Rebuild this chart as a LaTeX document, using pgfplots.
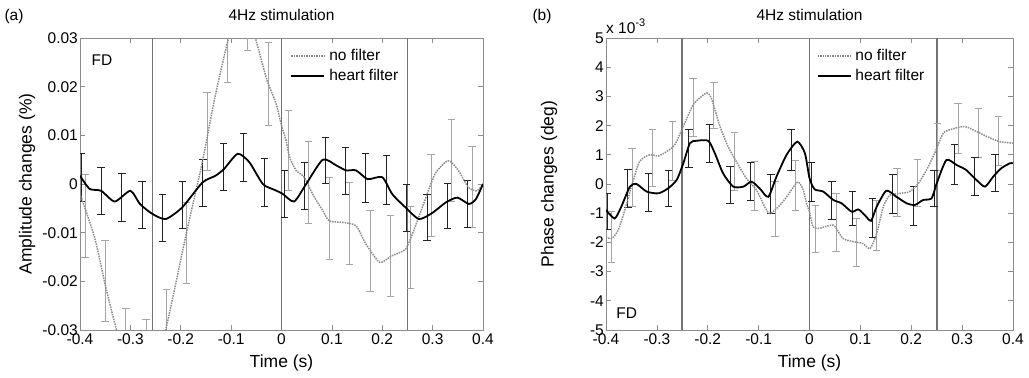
\documentclass[border=0pt]{standalone}
\usepackage{pgfplots}
\pgfplotsset{compat=1.18}
\usepackage{fontspec}
\setmainfont{Liberation Sans}
\definecolor{frame}{RGB}{140,140,140}
\definecolor{vline}{RGB}{115,115,115}
\definecolor{nofilt}{RGB}{140,140,140}
\definecolor{graybar}{RGB}{165,165,165}
\definecolor{blackbar}{RGB}{35,35,35}
\newcommand{\fs}{\fontsize{15.5bp}{17bp}\selectfont}
\newcommand{\fl}{\fontsize{17.5bp}{19bp}\selectfont}
\pgfplotsset{
  panel/.style={
    scale only axis, height=292bp,
    xmin=-0.4, xmax=0.4,
    scaled y ticks=false, scaled x ticks=false,
    xtick={-0.4,-0.3,-0.2,-0.1,0,0.1,0.2,0.3,0.4},
    xticklabels={-0.4,-0.3,-0.2,-0.1,0,0.1,0.2,0.3,0.4},
    tick align=inside, xtick pos=both, ytick pos=both,
    major tick length=5bp,
    axis line style={frame, line width=0.7pt},
    tick style={frame, line width=0.7pt},
    ticklabel style={font=\fs, black},
    xticklabel style={yshift=-2.5bp, inner sep=1bp},
    yticklabel style={inner sep=2bp},
    label style={font=\fl},
    title style={font=\fs},
    xlabel={Time (s)},
    xlabel style={at={(axis description cs:0.5,-0.128)}, anchor=base},
    title style={at={(axis description cs:0.5,1.058)}, anchor=center},
    legend style={draw=none, fill=none, font=\fs, anchor=north west,
      row sep=3bp, inner sep=0pt, legend cell align=left,
      nodes={inner xsep=4bp}},
    legend image code/.code={\draw[#1] (0bp,0bp) -- (33bp,0bp);},
    clip mode=individual,
  },
  gbars/.style={forget plot, draw=none, mark=none,
    error bars/.cd, y dir=both, y explicit,
    error bar style={graybar, line width=0.8pt},
    error mark options={graybar, line width=0.8pt, mark size=3.7bp, rotate=90}},
  kbars/.style={forget plot, draw=none, mark=none,
    error bars/.cd, y dir=both, y explicit,
    error bar style={blackbar, line width=0.9pt},
    error mark options={blackbar, line width=0.9pt, mark size=3.7bp, rotate=90}},
}
\begin{document}
\begin{tikzpicture}
\useasboundingbox (0,0) rectangle (1029bp,378bp);
\node[font=\fs] at (14bp,362bp) {(a)};
\node[font=\fs] at (542bp,362bp) {(b)};
% ---------------- panel (a)
\begin{axis}[panel, at={(80bp,48bp)}, anchor=south west, width=403bp,
  ymin=-0.03, ymax=0.03,
  ytick={-0.03,-0.02,-0.01,0,0.01,0.02,0.03},
  yticklabels={-0.03,-0.02,-0.01,0,0.01,0.02,0.03},
  ylabel={Amplitude changes (\%)},
  ylabel style={at={(axis description cs:-0.1315,0.5)}, anchor=center},
  title={4Hz stimulation},
  legend style={at={(rel axis cs:0.522,0.968)}},
]
\addplot[vline, line width=1.8pt, forget plot] coordinates {(-0.256,-0.03) (-0.256,0.03)};
\addplot[vline, line width=1.8pt, forget plot] coordinates {(0,-0.03) (0,0.03)};
\addplot[vline, line width=1.8pt, forget plot] coordinates {(0.25,-0.03) (0.25,0.03)};
% gray error bars (no filter)
\addplot[gbars] coordinates {
(-0.390,-0.00655) +- (0,0.00845)
(-0.350,-0.01995) +- (0,0.00835)
(-0.309,-0.0339) +- (0,0.0084)
(-0.269,-0.0363) +- (0,0.0084)
(-0.228,-0.0301) +- (0,0.0084)
(-0.188,-0.0121) +- (0,0.0083)
(-0.148,0.0108) +- (0,0.0080)
(-0.107,0.0293) +- (0,0.0084)
(-0.067,0.0358) +- (0,0.0084)
(-0.026,0.02055) +- (0,0.00845)
(0.014,0.0069) +- (0,0.0083)
(0.054,0.00035) +- (0,0.00845)
(0.095,-0.00705) +- (0,0.00845)
(0.135,-0.00815) +- (0,0.00845)
(0.176,-0.0138) +- (0,0.0083)
(0.216,-0.01475) +- (0,0.00835)
(0.256,-0.01295) +- (0,0.00845)
(0.297,-0.00235) +- (0,0.00835)
(0.337,0.00485) +- (0,0.00835)
(0.378,-0.00065) +- (0,0.00835)
};
% black error bars (heart filter)
\addplot[kbars] coordinates {
(-0.398,0.00135) +- (0,0.00485)
(-0.358,-0.0014) +- (0,0.0048)
(-0.317,-0.0028) +- (0,0.0049)
(-0.277,-0.00435) +- (0,0.00485)
(-0.236,-0.00705) +- (0,0.00485)
(-0.196,-0.0043) +- (0,0.0048)
(-0.156,0.0002) +- (0,0.0048)
(-0.115,0.00345) +- (0,0.00485)
(-0.075,0.0054) +- (0,0.0049)
(-0.034,0.0003) +- (0,0.0049)
(0.006,-0.00205) +- (0,0.00485)
(0.046,-0.00035) +- (0,0.00485)
(0.087,0.00485) +- (0,0.00475)
(0.127,0.0027) +- (0,0.0049)
(0.167,0.0012) +- (0,0.005)
(0.208,0.0009) +- (0,0.005)
(0.248,-0.00485) +- (0,0.00485)
(0.289,-0.00685) +- (0,0.00475)
(0.329,-0.00445) +- (0,0.00465)
(0.369,-0.00415) +- (0,0.00485)
};
\addplot[nofilt, densely dotted, line width=1.5pt, smooth, tension=0.4] coordinates {
(-0.4,-0.002) (-0.371,-0.011) (-0.35,-0.0207) (-0.328,-0.0297) (-0.31,-0.034)
(-0.29,-0.0365) (-0.268,-0.037) (-0.25,-0.035) (-0.23,-0.030) (-0.188,-0.0097)
(-0.158,0.0041) (-0.132,0.0179) (-0.105,0.030) (-0.09,0.0335) (-0.07,0.035)
(-0.052,0.030) (-0.029,0.0214) (-0.011,0.0166) (0.0,0.012) (0.009,0.009)
(0.016,0.0055) (0.029,0.0028) (0.045,0.0014) (0.062,-0.0021) (0.082,-0.0055)
(0.095,-0.0076) (0.122,-0.0079) (0.148,-0.0086) (0.168,-0.0124) (0.195,-0.0161)
(0.218,-0.0148) (0.246,-0.0134) (0.262,-0.0097) (0.282,-0.0041) (0.305,0.0021)
(0.331,0.0048) (0.351,0.0028) (0.371,-0.0007) (0.388,-0.0014) (0.4,0.0)
};
\addlegendentry{no filter}
\addplot[black, line width=1.8pt, smooth, tension=0.4] coordinates {
(-0.4,0.0017) (-0.381,-0.0010) (-0.358,-0.0014) (-0.331,-0.0036) (-0.3,-0.0014)
(-0.281,-0.0041) (-0.257,-0.0061) (-0.23,-0.0072) (-0.197,-0.0048) (-0.157,0.0003)
(-0.131,0.0017) (-0.114,0.0031) (-0.087,0.0062) (-0.064,0.0045) (-0.037,0.0)
(-0.014,-0.0012) (0.002,-0.002) (0.025,-0.0036) (0.049,0.0) (0.082,0.005)
(0.109,0.0038) (0.128,0.0028) (0.148,0.0028) (0.171,0.001) (0.2,0.0014)
(0.22,-0.0021) (0.246,-0.0048) (0.273,-0.0072) (0.3,-0.0059) (0.326,-0.0038)
(0.349,-0.0028) (0.372,-0.0041) (0.386,-0.0031) (0.4,0.0)
};
\addlegendentry{heart filter}
\node[font=\fs, anchor=west] at (rel axis cs:0.02,0.925) {FD};
\end{axis}
% ---------------- panel (b)
\begin{axis}[panel, at={(606bp,48bp)}, anchor=south west, width=407bp,
  ymin=-5, ymax=5,
  ytick={-5,-4,-3,-2,-1,0,1,2,3,4,5},
  yticklabels={-5,-4,-3,-2,-1,0,1,2,3,4,5},
  ylabel={Phase changes (deg)},
  ylabel style={at={(axis description cs:-0.14,0.5)}, anchor=center},
  title={4Hz stimulation},
  legend style={at={(rel axis cs:0.517,0.968)}},
]
\addplot[vline, line width=1.8pt, forget plot] coordinates {(-0.25,-5) (-0.25,5)};
\addplot[vline, line width=1.8pt, forget plot] coordinates {(0,-5) (0,5)};
\addplot[vline, line width=1.8pt, forget plot] coordinates {(0.25,-5) (0.25,5)};
\addplot[gbars] coordinates {
(-0.389,-1.81) +- (0,0.86)
(-0.349,0.225) +- (0,1.005)
(-0.309,0.895) +- (0,0.985)
(-0.269,1.14) +- (0,1.0)
(-0.229,2.615) +- (0,0.985)
(-0.188,2.685) +- (0,0.795)
(-0.148,0.785) +- (0,0.995)
(-0.108,-0.06) +- (0,0.83)
(-0.068,-0.865) +- (0,0.945)
(-0.028,-0.035) +- (0,0.855)
(0.012,-1.525) +- (0,0.805)
(0.052,-1.31) +- (0,0.99)
(0.092,-2.0) +- (0,0.82)
(0.132,-1.42) +- (0,0.87)
(0.172,-0.29) +- (0,0.83)
(0.212,0.035) +- (0,0.815)
(0.252,1.28) +- (0,0.8)
(0.292,1.90) +- (0,0.85)
(0.332,1.75) +- (0,0.85)
(0.372,1.48) +- (0,0.83)
};
\addplot[kbars] coordinates {
(-0.397,-0.94) +- (0,0.62)
(-0.357,-0.15) +- (0,0.65)
(-0.317,-0.28) +- (0,0.65)
(-0.277,-0.165) +- (0,0.615)
(-0.237,1.225) +- (0,0.655)
(-0.197,1.39) +- (0,0.66)
(-0.156,-0.03) +- (0,0.63)
(-0.116,0.095) +- (0,0.645)
(-0.076,-0.35) +- (0,0.66)
(-0.036,1.17) +- (0,0.69)
(0.004,0.06) +- (0,0.67)
(0.044,-0.565) +- (0,0.645)
(0.084,-0.845) +- (0,0.585)
(0.124,-1.165) +- (0,0.675)
(0.164,-0.35) +- (0,0.66)
(0.204,-0.75) +- (0,0.66)
(0.245,-0.15) +- (0,0.63)
(0.285,0.67) +- (0,0.67)
(0.325,0.25) +- (0,0.65)
(0.365,0.37) +- (0,0.63)
};
\addplot[nofilt, densely dotted, line width=1.5pt, smooth, tension=0.4] coordinates {
(-0.4,-1.81) (-0.389,-1.87) (-0.376,-1.58) (-0.363,-0.89) (-0.35,-0.09)
(-0.334,0.77) (-0.314,1.0) (-0.297,0.96) (-0.281,1.11) (-0.265,1.34)
(-0.248,1.97) (-0.229,2.71) (-0.216,2.94) (-0.202,3.12) (-0.193,2.94)
(-0.176,1.97) (-0.16,1.28) (-0.144,0.77) (-0.124,0.19) (-0.104,-0.21)
(-0.088,-0.78) (-0.078,-1.01) (-0.061,-0.78) (-0.045,-0.44) (-0.025,0.05)
(-0.019,0.02) (-0.012,-0.21) (-0.006,-0.66) (0.0,-0.95) (0.007,-1.47)
(0.020,-1.52) (0.047,-1.41) (0.066,-1.87) (0.089,-1.98) (0.105,-2.04)
(0.119,-2.21) (0.132,-1.70) (0.145,-0.78) (0.158,-0.38) (0.178,-0.32)
(0.197,-0.26) (0.214,0.02) (0.230,0.48) (0.246,1.05) (0.263,1.74)
(0.282,1.89) (0.305,1.97) (0.328,1.80) (0.348,1.63) (0.374,1.45) (0.4,1.40)
};
\addlegendentry{no filter}
\addplot[black, line width=1.8pt, smooth, tension=0.4] coordinates {
(-0.4,-0.89) (-0.383,-1.18) (-0.37,-0.78) (-0.353,-0.09) (-0.34,0.0)
(-0.32,-0.26) (-0.297,-0.32) (-0.278,-0.15) (-0.261,0.14) (-0.248,0.71)
(-0.235,1.40) (-0.222,1.48) (-0.199,1.48) (-0.186,1.05) (-0.17,0.37)
(-0.15,-0.09) (-0.13,-0.09) (-0.114,0.08) (-0.098,-0.15) (-0.081,-0.44)
(-0.065,0.25) (-0.045,1.0) (-0.024,1.45) (-0.009,1.05) (0.0,0.2)
(0.010,-0.18) (0.027,-0.26) (0.047,-0.55) (0.063,-0.66) (0.083,-0.95)
(0.096,-0.87) (0.109,-1.07) (0.121,-1.26) (0.132,-0.78) (0.151,-0.23)
(0.171,-0.44) (0.191,-0.66) (0.207,-0.72) (0.223,-0.55) (0.240,-0.49)
(0.250,0.02) (0.269,0.82) (0.289,0.65) (0.308,0.48) (0.328,0.14)
(0.345,-0.09) (0.361,0.25) (0.377,0.54) (0.394,0.71) (0.4,0.71)
};
\addlegendentry{heart filter}
\node[font=\fs, anchor=west] at (rel axis cs:0.017,0.058) {FD};
\node[font=\fs, anchor=base west, inner sep=0pt] at ([yshift=5bp]rel axis cs:0,1) {x 10\raisebox{0.45em}{\fontsize{11bp}{12bp}\selectfont -3}};
\end{axis}
\end{tikzpicture}
\end{document}
